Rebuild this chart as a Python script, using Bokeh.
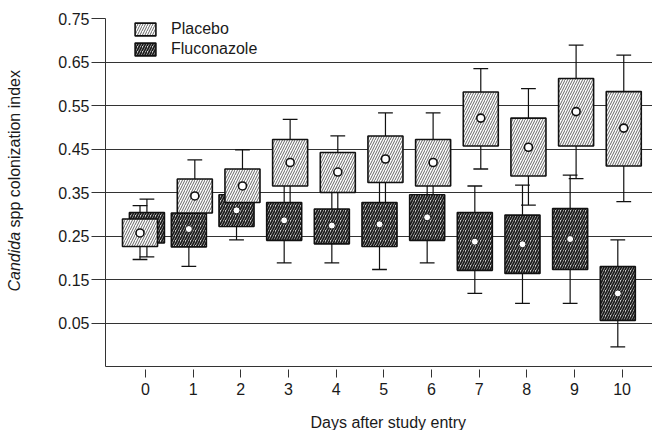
from bokeh.plotting import figure
from bokeh.models import (ColumnDataSource, Range1d, FixedTicker, NumeralTickFormatter,
                          Legend, LegendItem, Title)
from bokeh.embed import file_html
from bokeh.resources import INLINE

# ---- data ----
days = [0, 1, 2, 3, 4, 5, 6, 7, 8, 9, 10]

plac_whi_lo = [0.196, 0.270, 0.290, 0.300, 0.300, 0.310, 0.330, 0.404, 0.321, 0.382, 0.329]
plac_q1     = [0.226, 0.303, 0.327, 0.365, 0.350, 0.373, 0.365, 0.457, 0.388, 0.457, 0.411]
plac_mean   = [0.257, 0.342, 0.365, 0.419, 0.397, 0.427, 0.419, 0.521, 0.454, 0.536, 0.498]
plac_q3     = [0.289, 0.381, 0.404, 0.472, 0.442, 0.480, 0.472, 0.581, 0.521, 0.612, 0.582]
plac_whi_hi = [0.320, 0.425, 0.448, 0.518, 0.480, 0.533, 0.533, 0.635, 0.589, 0.689, 0.666]

fluc_whi_lo = [0.202, 0.180, 0.241, 0.188, 0.188, 0.173, 0.188, 0.118, 0.095, 0.095, -0.005]
fluc_q1     = [0.234, 0.225, 0.272, 0.240, 0.232, 0.226, 0.240, 0.171, 0.164, 0.173, 0.056]
fluc_mean   = [0.270, 0.266, 0.309, 0.286, 0.274, 0.277, 0.293, 0.237, 0.231, 0.243, 0.118]
fluc_q3     = [0.304, 0.303, 0.345, 0.327, 0.312, 0.327, 0.345, 0.304, 0.298, 0.313, 0.180]
fluc_whi_hi = [0.335, 0.340, 0.370, 0.380, 0.370, 0.390, 0.380, 0.365, 0.367, 0.390, 0.241]

y_ticks = [0.05, 0.15, 0.25, 0.35, 0.45, 0.55, 0.65, 0.75]
series_names = ["Placebo", "Fluconazole"]
x_title = "Days after study entry"
y_title_italic = "Candida"
y_title_rest = "spp colonization index"

# ---- layout constants ----
plac_offset = [-0.115] + [0.035] * 10
fluc_offset = [0.03] + [-0.09] * 10
BOX_W = 0.735
CAP_HALF = 0.155
FONT = "Liberation Sans"


def make_source(off, lo, q1, mean, q3, hi):
    x = [d + o for d, o in zip(days, off)]
    return ColumnDataSource(dict(
        x=x, x0=[v - CAP_HALF for v in x], x1=[v + CAP_HALF for v in x],
        lo=lo, q1=q1, mean=mean, q3=q3, hi=hi))


src_p = make_source(plac_offset, plac_whi_lo, plac_q1, plac_mean, plac_q3, plac_whi_hi)
src_f = make_source(fluc_offset, fluc_whi_lo, fluc_q1, fluc_mean, fluc_q3, fluc_whi_hi)

p = figure(width=652, height=430,
           x_range=Range1d(-0.839, 10.638), y_range=Range1d(-0.05, 0.75),
           output_backend="svg", toolbar_location=None,
           min_border_left=105, min_border_right=0, min_border_top=18, min_border_bottom=63)
p.outline_line_color = None
p.background_fill_color = "white"
p.border_fill_color = "white"

p.xgrid.visible = False
p.ygrid.ticker = FixedTicker(ticks=y_ticks)
p.ygrid.grid_line_color = "#333333"
p.ygrid.grid_line_width = 1

p.yaxis.ticker = FixedTicker(ticks=y_ticks)
p.yaxis.formatter = NumeralTickFormatter(format="0.00")
p.yaxis.major_tick_out = 14
p.yaxis.major_tick_in = 0
p.yaxis.minor_tick_line_color = None
p.yaxis.major_label_standoff = 2
p.xaxis.ticker = FixedTicker(ticks=days)
p.xaxis.major_tick_out = 11
p.xaxis.major_tick_in = -3
p.xaxis.minor_tick_line_color = None
p.xaxis.major_label_standoff = 5
for ax in (p.xaxis, p.yaxis):
    ax.axis_line_color = "#333333"
    ax.major_tick_line_color = "#333333"
    ax.major_label_text_font = FONT
    ax.major_label_text_font_size = "16px"
    ax.major_label_text_color = "#1a1a1a"

# whiskers (all first, so boxes hide their ends)
for src in (src_f, src_p):
    p.segment(x0="x", y0="q3", x1="x", y1="hi", source=src, line_color="#111111", line_width=1.2)
    p.segment(x0="x", y0="q1", x1="x", y1="lo", source=src, line_color="#111111", line_width=1.2)
    p.segment(x0="x0", y0="hi", x1="x1", y1="hi", source=src, line_color="#111111", line_width=1.3)
    p.segment(x0="x0", y0="lo", x1="x1", y1="lo", source=src, line_color="#111111", line_width=1.3)

r_f = p.vbar(x="x", width=BOX_W, bottom="q1", top="q3", source=src_f,
             fill_color="#d2d2d2", line_color="#111111", line_width=1.6,
             hatch_pattern="/", hatch_color="#1a1a1a", hatch_weight=1.7, hatch_scale=5)
p.scatter(x="x", y="mean", source=src_f, size=7, fill_color="white",
          line_color="#222222", line_width=1)

r_p = p.vbar(x="x", width=BOX_W, bottom="q1", top="q3", source=src_p,
             fill_color="white", line_color="#111111", line_width=1.6,
             hatch_pattern="/", hatch_color="#555555", hatch_weight=0.9, hatch_scale=5)
p.scatter(x="x", y="mean", source=src_p, size=8, fill_color="white",
          line_color="#111111", line_width=1.6)

legend = Legend(items=[LegendItem(label=series_names[0], renderers=[r_p]),
                       LegendItem(label=series_names[1], renderers=[r_f])],
                location=(27, 308), orientation="vertical",
                glyph_width=26, glyph_height=16, label_height=16, spacing=2,
                label_standoff=13, padding=0, margin=0,
                background_fill_alpha=0, border_line_color=None,
                label_text_font=FONT, label_text_font_size="16px",
                label_text_color="#1a1a1a")
p.add_layout(legend, "center")

# ---- axis titles (Title models in side panels, so they are not clipped) ----
p.add_layout(Title(text=" ", text_font_size="4px", standoff=7), "below")
p.add_layout(Title(text=x_title, align="left", offset=205, vertical_align="bottom",
                   standoff=0, text_font=FONT, text_font_size="16px",
                   text_font_style="normal", text_color="#1a1a1a"), "below")

p.add_layout(Title(text=" ", text_font=FONT, text_font_size="16px", standoff=22), "left")
p.add_layout(Title(text=y_title_italic, align="left", offset=75, vertical_align="middle",
                   standoff=-20, text_font=FONT, text_font_size="16px",
                   text_font_style="italic", text_color="#1a1a1a"), "left")
p.add_layout(Title(text=y_title_rest, align="left", offset=139, vertical_align="middle",
                   standoff=-20, text_font=FONT, text_font_size="16px",
                   text_font_style="normal", text_color="#1a1a1a"), "left")

open("out.html", "w").write(file_html(p, INLINE))
